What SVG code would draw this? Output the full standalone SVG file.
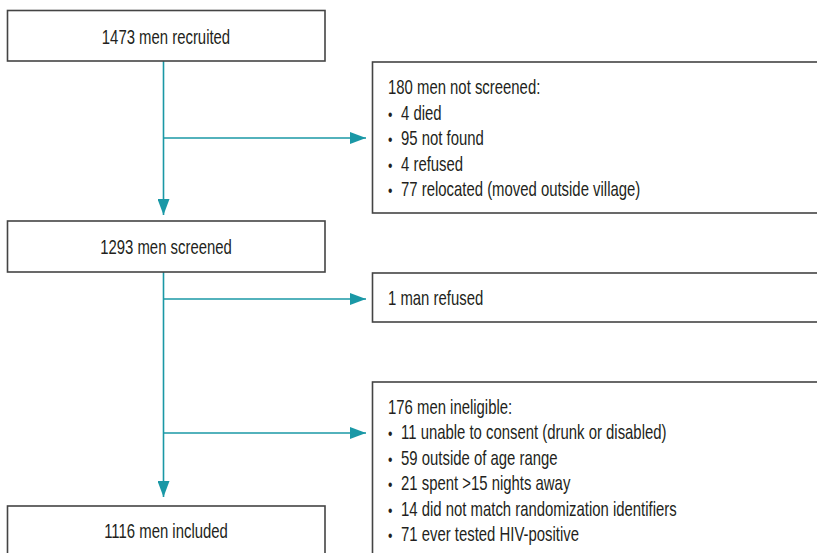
<svg xmlns="http://www.w3.org/2000/svg" width="817" height="553" viewBox="0 0 817 553">
<style>
.box{fill:#fff;stroke:#444;stroke-width:1.6}
.t{font-family:"Liberation Sans",Arial,sans-serif;font-size:20px;fill:#231f20}
.c{text-anchor:middle}
.b{font-size:17px}
.con{fill:none;stroke:#1a98a6;stroke-width:1.6}
</style>
<defs>
<marker id="ah" markerWidth="16" markerHeight="12" refX="16" refY="6" orient="auto" markerUnits="userSpaceOnUse">
<path d="M0,0 L16,6 L0,12 z" fill="#1a98a6"/>
</marker>
</defs>
<rect width="817" height="553" fill="#fff"/>
<g id="connectors">
<path class="con" d="M163.5,61 V215" marker-end="url(#ah)"/>
<path class="con" d="M163.5,138 H366" marker-end="url(#ah)"/>
<path class="con" d="M163.5,272 V497" marker-end="url(#ah)"/>
<path class="con" d="M163.5,299 H366" marker-end="url(#ah)"/>
<path class="con" d="M163.5,433 H366" marker-end="url(#ah)"/>
</g>
<g id="recruited">
<rect class="box" x="7.5" y="10.5" width="317.5" height="50.5"/>
<text class="t c" transform="translate(166,43.5) scale(0.745,1)">1473 men recruited</text>
</g>
<g id="not-screened">
<rect class="box" x="372.5" y="62" width="450" height="151"/>
<text class="t" transform="translate(388,94) scale(0.745,1)">180 men not screened:</text>
<text class="t" transform="translate(388,119.5) scale(0.745,1)"><tspan class="b" x="0">•</tspan><tspan x="17.5">4 died</tspan></text>
<text class="t" transform="translate(388,145) scale(0.745,1)"><tspan class="b" x="0">•</tspan><tspan x="17.5">95 not found</tspan></text>
<text class="t" transform="translate(388,170.5) scale(0.745,1)"><tspan class="b" x="0">•</tspan><tspan x="17.5">4 refused</tspan></text>
<text class="t" transform="translate(388,196) scale(0.745,1)"><tspan class="b" x="0">•</tspan><tspan x="17.5">77 relocated (moved outside village)</tspan></text>
</g>
<g id="screened">
<rect class="box" x="7.5" y="221" width="317.5" height="51"/>
<text class="t c" transform="translate(166,254) scale(0.745,1)">1293 men screened</text>
</g>
<g id="refused">
<rect class="box" x="372.5" y="273" width="450" height="49"/>
<text class="t" transform="translate(388,305) scale(0.745,1)">1 man refused</text>
</g>
<g id="ineligible">
<rect class="box" x="372.5" y="382" width="450" height="200"/>
<text class="t" transform="translate(388,413.5) scale(0.745,1)">176 men ineligible:</text>
<text class="t" transform="translate(388,439) scale(0.745,1)"><tspan class="b" x="0">•</tspan><tspan x="17.5">11 unable to consent (drunk or disabled)</tspan></text>
<text class="t" transform="translate(388,464.5) scale(0.745,1)"><tspan class="b" x="0">•</tspan><tspan x="17.5">59 outside of age range</tspan></text>
<text class="t" transform="translate(388,490) scale(0.745,1)"><tspan class="b" x="0">•</tspan><tspan x="17.5">21 spent &gt;15 nights away</tspan></text>
<text class="t" transform="translate(388,515.5) scale(0.745,1)"><tspan class="b" x="0">•</tspan><tspan x="17.5">14 did not match randomization identifiers</tspan></text>
<text class="t" transform="translate(388,541) scale(0.745,1)"><tspan class="b" x="0">•</tspan><tspan x="17.5">71 ever tested HIV-positive</tspan></text>
</g>
<g id="included">
<rect class="box" x="7.5" y="506" width="317.5" height="100"/>
<text class="t c" transform="translate(166,537.5) scale(0.745,1)">1116 men included</text>
</g>
</svg>
